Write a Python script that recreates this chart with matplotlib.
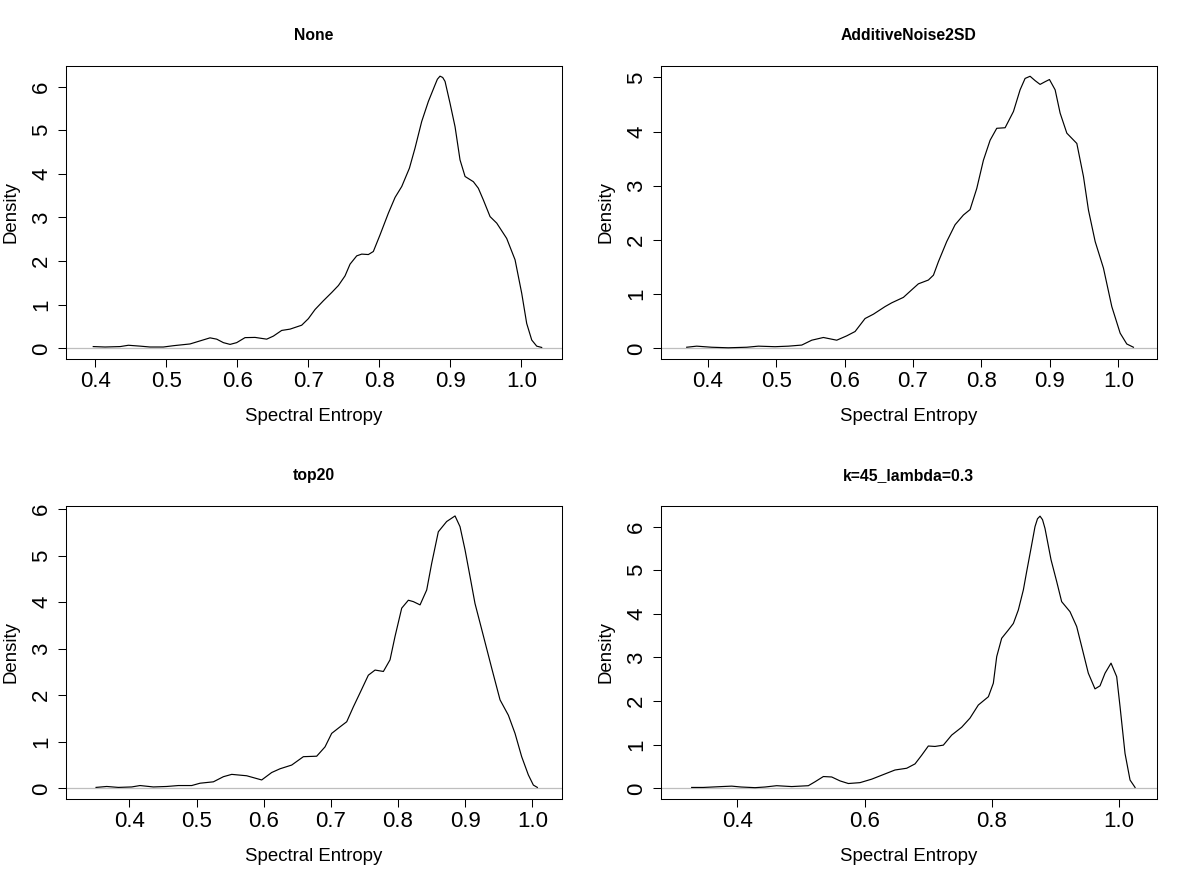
import numpy as np
from matplotlib import pyplot as plt

plt.rcParams['font.family'] = ['Liberation Sans', 'DejaVu Sans']

# density curves
none_x = [0.397, 0.4136, 0.435, 0.4465, 0.463, 0.477, 0.4958, 0.5099, 0.5333, 0.5474,
          0.5615, 0.5709, 0.5803, 0.5897, 0.599, 0.6108, 0.6249, 0.6413, 0.6507, 0.6624,
          0.6742, 0.6906, 0.70, 0.7094, 0.7211, 0.7329, 0.7423, 0.7516, 0.7587, 0.7681,
          0.7751, 0.7845, 0.7915, 0.8009, 0.8127, 0.8221, 0.8315, 0.8423, 0.8502, 0.8596,
          0.869, 0.8784, 0.8817, 0.8854, 0.8892, 0.8925, 0.8995, 0.9066, 0.9136, 0.9207,
          0.9324, 0.9394, 0.9465, 0.9559, 0.9653, 0.9793, 0.9911, 1.0005, 1.0075, 1.0146,
          1.0216, 1.0286]
none_y = [0.04, 0.03, 0.04, 0.07, 0.05, 0.03, 0.03, 0.06, 0.10, 0.17,
          0.24, 0.21, 0.13, 0.09, 0.13, 0.245, 0.25, 0.21, 0.28, 0.41,
          0.44, 0.53, 0.68, 0.89, 1.09, 1.28, 1.44, 1.66, 1.93, 2.12,
          2.16, 2.15, 2.22, 2.60, 3.10, 3.46, 3.71, 4.13, 4.59, 5.20,
          5.66, 6.04, 6.17, 6.24, 6.21, 6.12, 5.62, 5.08, 4.32, 3.94,
          3.82, 3.67, 3.40, 3.02, 2.87, 2.52, 2.03, 1.26, 0.57, 0.19,
          0.05, 0.02]

noise_x = [0.3693, 0.3839, 0.4058, 0.430, 0.457, 0.474, 0.4984, 0.5179, 0.5374, 0.552,
           0.569, 0.5885, 0.6031, 0.6153, 0.6299, 0.6421, 0.6591, 0.6689, 0.6859, 0.6981,
           0.7078, 0.7224, 0.7298, 0.7371, 0.7492, 0.7614, 0.7736, 0.7833, 0.7931, 0.8028,
           0.8126, 0.8223, 0.8345, 0.8467, 0.8564, 0.8637, 0.871, 0.8783, 0.8856, 0.893,
           0.8993, 0.9076, 0.9149, 0.9247, 0.9393, 0.949, 0.9563, 0.9661, 0.9782, 0.9904,
           1.0026, 1.0123, 1.022]
noise_y = [0.02, 0.04, 0.02, 0.01, 0.02, 0.04, 0.03, 0.04, 0.06, 0.15,
           0.20, 0.15, 0.23, 0.31, 0.55, 0.63, 0.77, 0.84, 0.94, 1.08,
           1.19, 1.26, 1.35, 1.60, 1.97, 2.28, 2.46, 2.56, 2.95, 3.47,
           3.84, 4.06, 4.07, 4.37, 4.77, 4.98, 5.02, 4.94, 4.87, 4.92,
           4.96, 4.77, 4.34, 3.97, 3.78, 3.17, 2.55, 1.97, 1.48, 0.77,
           0.28, 0.08, 0.02]

top20_x = [0.3504, 0.3663, 0.3836, 0.4035, 0.4159, 0.4357, 0.4556, 0.473, 0.4928, 0.5052,
           0.5251, 0.54, 0.5524, 0.5747, 0.597, 0.6119, 0.6243, 0.6417, 0.6591, 0.6789,
           0.6913, 0.7012, 0.7136, 0.7236, 0.7335, 0.7434, 0.7558, 0.7658, 0.7782, 0.7881,
           0.7955, 0.8055, 0.8154, 0.8228, 0.8328, 0.8427, 0.8501, 0.86, 0.8724, 0.8849,
           0.8923, 0.8998, 0.9072, 0.9146, 0.9261, 0.9395, 0.9519, 0.9643, 0.9742, 0.9841,
           0.994, 1.0015, 1.0074]
top20_y = [0.02, 0.04, 0.02, 0.03, 0.06, 0.03, 0.04, 0.06, 0.06, 0.11,
           0.14, 0.25, 0.30, 0.27, 0.18, 0.34, 0.42, 0.50, 0.68, 0.69,
           0.89, 1.18, 1.32, 1.43, 1.75, 2.05, 2.43, 2.54, 2.51, 2.76,
           3.26, 3.87, 4.04, 4.01, 3.94, 4.26, 4.83, 5.51, 5.73, 5.85,
           5.62, 5.12, 4.55, 3.97, 3.33, 2.58, 1.90, 1.57, 1.18, 0.68,
           0.29, 0.07, 0.02]

k45_x = [0.3282, 0.3466, 0.3754, 0.3911, 0.4058, 0.4278, 0.4435, 0.4618, 0.4854, 0.5116,
         0.5221, 0.5352, 0.5483, 0.5614, 0.5745, 0.5928, 0.6112, 0.6321, 0.6478, 0.6662,
         0.6793, 0.6898, 0.7002, 0.7107, 0.7238, 0.7369, 0.7526, 0.7657, 0.7788, 0.7946,
         0.8024, 0.8077, 0.8155, 0.826, 0.8339, 0.8417, 0.8496, 0.8548, 0.8616, 0.8679,
         0.8718, 0.8758, 0.8797, 0.8836, 0.8931, 0.902, 0.9098, 0.9229, 0.9334, 0.9413,
         0.9517, 0.9622, 0.9701, 0.978, 0.9874, 0.9963, 1.0016, 1.0094, 1.0173, 1.0252]
k45_y = [0.02, 0.02, 0.04, 0.05, 0.03, 0.015, 0.03, 0.06, 0.04, 0.06,
         0.15, 0.27, 0.26, 0.17, 0.11, 0.13, 0.21, 0.33, 0.42, 0.46,
         0.56, 0.76, 0.97, 0.96, 0.99, 1.22, 1.40, 1.61, 1.91, 2.10,
         2.41, 3.02, 3.44, 3.63, 3.78, 4.09, 4.55, 4.97, 5.50, 6.00,
         6.18, 6.24, 6.16, 5.96, 5.24, 4.74, 4.28, 4.05, 3.71, 3.25,
         2.64, 2.28, 2.35, 2.64, 2.87, 2.56, 1.87, 0.80, 0.19, 0.02]

titles = ['None', 'AdditiveNoise2SD', 'top20', 'k=45_lambda=0.3']
xs = [none_x, noise_x, top20_x, k45_x]
ys = [none_y, noise_y, top20_y, k45_y]
xticks = [[0.4, 0.5, 0.6, 0.7, 0.8, 0.9, 1.0], [0.4, 0.5, 0.6, 0.7, 0.8, 0.9, 1.0],
          [0.4, 0.5, 0.6, 0.7, 0.8, 0.9, 1.0], [0.4, 0.6, 0.8, 1.0]]
yticks = [[0, 1, 2, 3, 4, 5, 6], [0, 1, 2, 3, 4, 5],
          [0, 1, 2, 3, 4, 5, 6], [0, 1, 2, 3, 4, 5, 6]]
xlims = [(0.3582, 1.0568), (0.3313, 1.056), (0.3052, 1.0437), (0.2795, 1.0592)]
ylims = [(-0.245, 6.48), (-0.197, 5.215), (-0.229, 6.07), (-0.245, 6.48)]

W, H = 1190.0, 881.0
lefts = [65.7, 660.7, 65.7, 660.7]
tops = [65.7, 65.7, 505.7, 505.7]
aw, ah = 496.0, 293.3

fig = plt.figure(figsize=(11.9, 8.81), dpi=100)
for i in range(4):
    ax = fig.add_axes([lefts[i]/W, 1 - (tops[i]+ah)/H, aw/W, ah/H])
    ax.axhline(0, color='#bebebe', lw=0.9, zorder=1)
    ax.plot(xs[i], ys[i], color='black', lw=0.85, zorder=2)
    ax.set_xlim(xlims[i])
    ax.set_ylim(ylims[i])
    ax.set_xticks(xticks[i])
    ax.set_xticklabels(['%.1f' % v for v in xticks[i]])
    ax.set_yticks(yticks[i])
    ax.tick_params(axis='both', direction='out', length=6.0, width=0.75, labelsize=16)
    ax.tick_params(axis='x', pad=2.5)
    ax.tick_params(axis='y', pad=3.8, labelrotation=90)
    for lab in ax.get_yticklabels():
        lab.set_verticalalignment('center')
    for s in ax.spines.values():
        s.set_linewidth(0.75)
    ax.set_title(titles[i], fontsize=11.3, fontweight='bold', pad=18.5)
    ax.set_xlabel('Spectral Entropy', fontsize=13.4)
    ax.set_ylabel('Density', fontsize=13.4)
    ax.xaxis.set_label_coords(0.5, -0.168)
    ax.yaxis.set_label_coords(-0.0937, 0.5)

plt.savefig('out.png', dpi=100)
